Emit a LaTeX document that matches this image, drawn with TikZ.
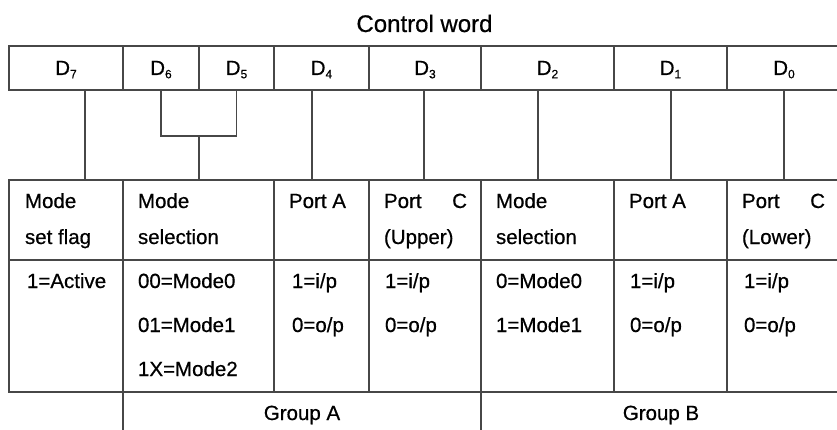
\documentclass[tikz,border=0pt]{standalone}
\usepackage{fontspec}
\setmainfont{Liberation Sans}[FakeBold=0.6]
\begin{document}
\begin{tikzpicture}[x=1pt,y=-1pt,
  line/.style={draw=black!72,line width=1.1pt},
  cell/.style={line,rectangle,inner sep=0pt,outer sep=0pt},
  txt/.style={inner sep=0pt,outer sep=0pt,anchor=base west,font=\fontsize{20.5pt}{24pt}\selectfont},
  ctxt/.style={txt,anchor=base},
  title/.style={inner sep=0pt,anchor=base,font=\fontsize{24pt}{28pt}\selectfont}]
\useasboundingbox (0,0) rectangle (837,430);
\clip (0,0) rectangle (837,430);
% title
\node[title] (title) at (424.5,32) {Control word};
% top row: bits
\node[cell,minimum width=114pt,minimum height=44pt] (d7) at (66,68) {};
\node[cell,minimum width=76pt,minimum height=44pt] (d6) at (161,68) {};
\node[cell,minimum width=75pt,minimum height=44pt] (d5) at (236.5,68) {};
\node[cell,minimum width=95pt,minimum height=44pt] (d4) at (321.5,68) {};
\node[cell,minimum width=112pt,minimum height=44pt] (d3) at (425,68) {};
\node[cell,minimum width=133pt,minimum height=44pt] (d2) at (547.5,68) {};
\node[cell,minimum width=113pt,minimum height=44pt] (d1) at (670.5,68) {};
\node[cell,minimum width=114pt,minimum height=44pt] (d0) at (784,68) {};
\foreach \n/\s in {d7/7,d6/6,d5/5,d4/4,d3/3,d2/2,d1/1,d0/0}
  \node[ctxt] at ([yshift=-7pt]\n.center) {D\raisebox{-0.3ex}{\fontsize{12pt}{14pt}\selectfont\s}};
% header row
\node[cell,minimum width=114pt,minimum height=80pt] (h7) at (66,220) {};
\node[cell,minimum width=151pt,minimum height=80pt] (h65) at (198.5,220) {};
\node[cell,minimum width=95pt,minimum height=80pt] (h4) at (321.5,220) {};
\node[cell,minimum width=112pt,minimum height=80pt] (h3) at (425,220) {};
\node[cell,minimum width=133pt,minimum height=80pt] (h2) at (547.5,220) {};
\node[cell,minimum width=113pt,minimum height=80pt] (h1) at (670.5,220) {};
\node[cell,minimum width=114pt,minimum height=80pt] (h0) at (784,220) {};
% value row
\node[cell,minimum width=114pt,minimum height=132pt] (v7) at (66,326) {};
\node[cell,minimum width=151pt,minimum height=132pt] (v65) at (198.5,326) {};
\node[cell,minimum width=95pt,minimum height=132pt] (v4) at (321.5,326) {};
\node[cell,minimum width=112pt,minimum height=132pt] (v3) at (425,326) {};
\node[cell,minimum width=133pt,minimum height=132pt] (v2) at (547.5,326) {};
\node[cell,minimum width=113pt,minimum height=132pt] (v1) at (670.5,326) {};
\node[cell,minimum width=114pt,minimum height=132pt] (v0) at (784,326) {};
% group row
\node[inner sep=0pt,outer sep=0pt,minimum width=358pt,minimum height=50pt] (ga) at (302,417) {};
\node[inner sep=0pt,outer sep=0pt,minimum width=360pt,minimum height=50pt] (gb) at (661,417) {};
\draw[line] (ga.north west) -- (ga.south west);
\draw[line] (gb.north west) -- (gb.south west);
\node[ctxt] at (302,420) {Group A};
\node[ctxt] at (661,420) {Group B};
% connectors
\draw[line] ([xshift=19pt]d7.south) -- ([xshift=19pt]d7.south |- h7.north);
\coordinate (j65) at (199,136);
\draw[line] (d6.south) |- (j65) -| (d5.south);
\draw[line] (j65) -- (j65 |- h65.north);
\draw[line] ([xshift=-9.5pt]d4.south) -- ([xshift=-9.5pt]d4.south |- h4.north);
\draw[line] ([xshift=-1pt]d3.south) -- ([xshift=-1pt]d3.south |- h3.north);
\draw[line] ([xshift=-9.5pt]d2.south) -- ([xshift=-9.5pt]d2.south |- h2.north);
\draw[line] ([xshift=0.5pt]d1.south) -- ([xshift=0.5pt]d1.south |- h1.north);
\draw[line] (d0.south) -- (h0.north);
% header texts
\node[txt] at (25,208) {Mode};
\node[txt] at (25,244) {set flag};
\node[txt] at (138,208) {Mode};
\node[txt] at (138,244) {selection};
\node[txt] at (289,208) {Port A};
\node[txt] at (384,208) {\makebox[83pt][l]{Port\hfill C}};
\node[txt] at (384,244) {(Upper)};
\node[txt] at (496,208) {Mode};
\node[txt] at (496,244) {selection};
\node[txt] at (629,208) {Port A};
\node[txt] at (742,208) {\makebox[83pt][l]{Port\hfill C}};
\node[txt] at (742,244) {(Lower)};
% value texts
\node[txt] at (27,288) {1=Active};
\node[txt] at (138,288) {00=Mode0};
\node[txt] at (138,332) {01=Mode1};
\node[txt] at (138,376) {1X=Mode2};
\node[txt] at (292,288) {1=i/p};
\node[txt] at (292,332) {0=o/p};
\node[txt] at (385,288) {1=i/p};
\node[txt] at (385,332) {0=o/p};
\node[txt] at (496,288) {0=Mode0};
\node[txt] at (496,332) {1=Mode1};
\node[txt] at (630,288) {1=i/p};
\node[txt] at (630,332) {0=o/p};
\node[txt] at (744,288) {1=i/p};
\node[txt] at (744,332) {0=o/p};
\end{tikzpicture}
\end{document}
